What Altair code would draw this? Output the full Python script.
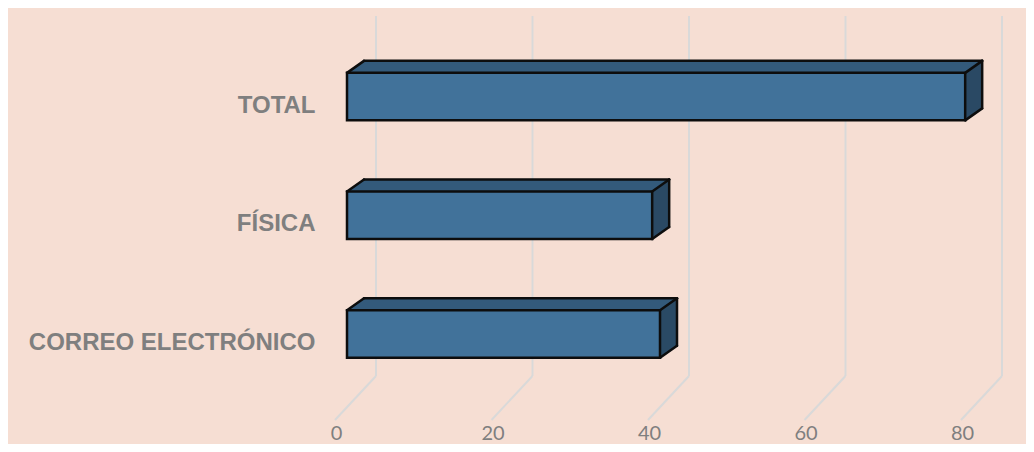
import altair as alt
import pandas as pd

# ---- data ----
CATEGORIES = ["TOTAL", "FÍSICA", "CORREO ELECTRÓNICO"]
VALUES = [79, 39, 40]
TICKS = [0, 20, 40, 60, 80]

df = pd.DataFrame({"cat": CATEGORIES, "value": VALUES})
ticks_df = pd.DataFrame({"tick": TICKS})

# ---- style ----
PEACH = "#f6ded3"
FRONT = "#41729a"
TOP = "#335a7b"
SIDE = "#2b4a65"
EDGE = "#0d0d0d"
GRID = "#d9d9d9"
LABEL = "#7f7f7f"

W, H = 626, 360
BH = 47.5          # bar thickness (px)
DX, DY = 17, 12    # bar depth offset
GX_BACK, GX_FRONT, G_DY = 29, -12, 44  # floor geometry

xscale = alt.Scale(domain=[0, 80], nice=False, zero=True)
xaxis = alt.Axis(values=TICKS, title=None, grid=False, domain=False, ticks=False,
                 tickSize=0, labelOffset=-11, labelPadding=47, labelFlush=False,
                 labelFont="Lato", labelFontSize=20, labelColor=LABEL)
yscale = alt.Scale(domain=CATEGORIES, paddingInner=0.6, paddingOuter=0.3165, align=0.757)
yaxis = alt.Axis(title=None, grid=False, domain=False, ticks=False, tickSize=0,
                 labelPadding=32, labelOffset=9, labelFont="Liberation Sans",
                 labelFontWeight="bold", labelFontSize=24, labelColor=LABEL,
                 labelLimit=400)


def X(field="value"):
    return alt.X(f"{field}:Q", scale=xscale, axis=xaxis)


def Y():
    return alt.Y("cat:N", scale=yscale, axis=yaxis, sort=CATEGORIES)


def Y2():
    return alt.Y2("cat")


layers = []

# floor gridlines (back vertical + diagonal to front)
layers.append(alt.Chart(ticks_df).mark_rule(color=GRID, strokeWidth=2, xOffset=GX_BACK).encode(
    x=X("tick"), y=alt.value(0), y2=alt.value(H)))
layers.append(alt.Chart(ticks_df).mark_rule(color=GRID, strokeWidth=2, xOffset=GX_BACK,
                                            x2Offset=GX_FRONT).encode(
    x=X("tick"), x2=alt.X2("tick"), y=alt.value(H), y2=alt.value(H + G_DY)))

# depth of the bars (top face colour), built from shifted copies
for k in range(1, DX + 1):
    layers.append(alt.Chart(df).mark_bar(height=BH, color=TOP, xOffset=k,
                                         yOffset=-k * DY / DX, strokeWidth=0).encode(
        x=X(), y=Y()))

# side face
for k in range(0, DX + 1):
    layers.append(alt.Chart(df).mark_rule(color=SIDE, strokeWidth=1.6, xOffset=k,
                                          yOffset=-BH / 2 - k * DY / DX,
                                          y2Offset=BH / 2 - k * DY / DX).encode(
        x=X(), y=Y(), y2=Y2()))

# front face
layers.append(alt.Chart(df).mark_bar(height=BH, color=FRONT, stroke=EDGE,
                                     strokeWidth=2.5).encode(x=X(), y=Y()))

edge = dict(color=EDGE, strokeWidth=2.5, strokeCap="round")
# back top edge
layers.append(alt.Chart(df).mark_rule(xOffset=DX, x2Offset=DX, yOffset=-BH / 2 - DY,
                                      y2Offset=-BH / 2 - DY, **edge).encode(
    x=alt.X("z:Q", scale=xscale, axis=xaxis), x2=alt.X2("value"), y=Y(), y2=Y2()
).transform_calculate(z="0"))
# left top diagonal
layers.append(alt.Chart(df).mark_rule(xOffset=0, x2Offset=DX, yOffset=-BH / 2,
                                      y2Offset=-BH / 2 - DY, **edge).encode(
    x=alt.X("z:Q", scale=xscale, axis=xaxis), x2=alt.X2("z"), y=Y(), y2=Y2()
).transform_calculate(z="0"))
# right top diagonal
layers.append(alt.Chart(df).mark_rule(xOffset=0, x2Offset=DX, yOffset=-BH / 2,
                                      y2Offset=-BH / 2 - DY, **edge).encode(
    x=X(), x2=alt.X2("value"), y=Y(), y2=Y2()))
# right bottom diagonal
layers.append(alt.Chart(df).mark_rule(xOffset=0, x2Offset=DX, yOffset=BH / 2,
                                      y2Offset=BH / 2 - DY, **edge).encode(
    x=X(), x2=alt.X2("value"), y=Y(), y2=Y2()))
# back right vertical
layers.append(alt.Chart(df).mark_rule(xOffset=DX, x2Offset=DX, yOffset=-BH / 2 - DY,
                                      y2Offset=BH / 2 - DY, **edge).encode(
    x=X(), x2=alt.X2("value"), y=Y(), y2=Y2()))

chart = alt.layer(*layers).properties(
    width=W, height=H,
    autosize=alt.AutoSizeParams(type="none"),
    padding={"left": 339, "top": 8, "right": 53, "bottom": 68},
    background=PEACH,
).configure_view(stroke=None)

chart.save("out.html", embed_options={"renderer": "svg", "actions": False})
